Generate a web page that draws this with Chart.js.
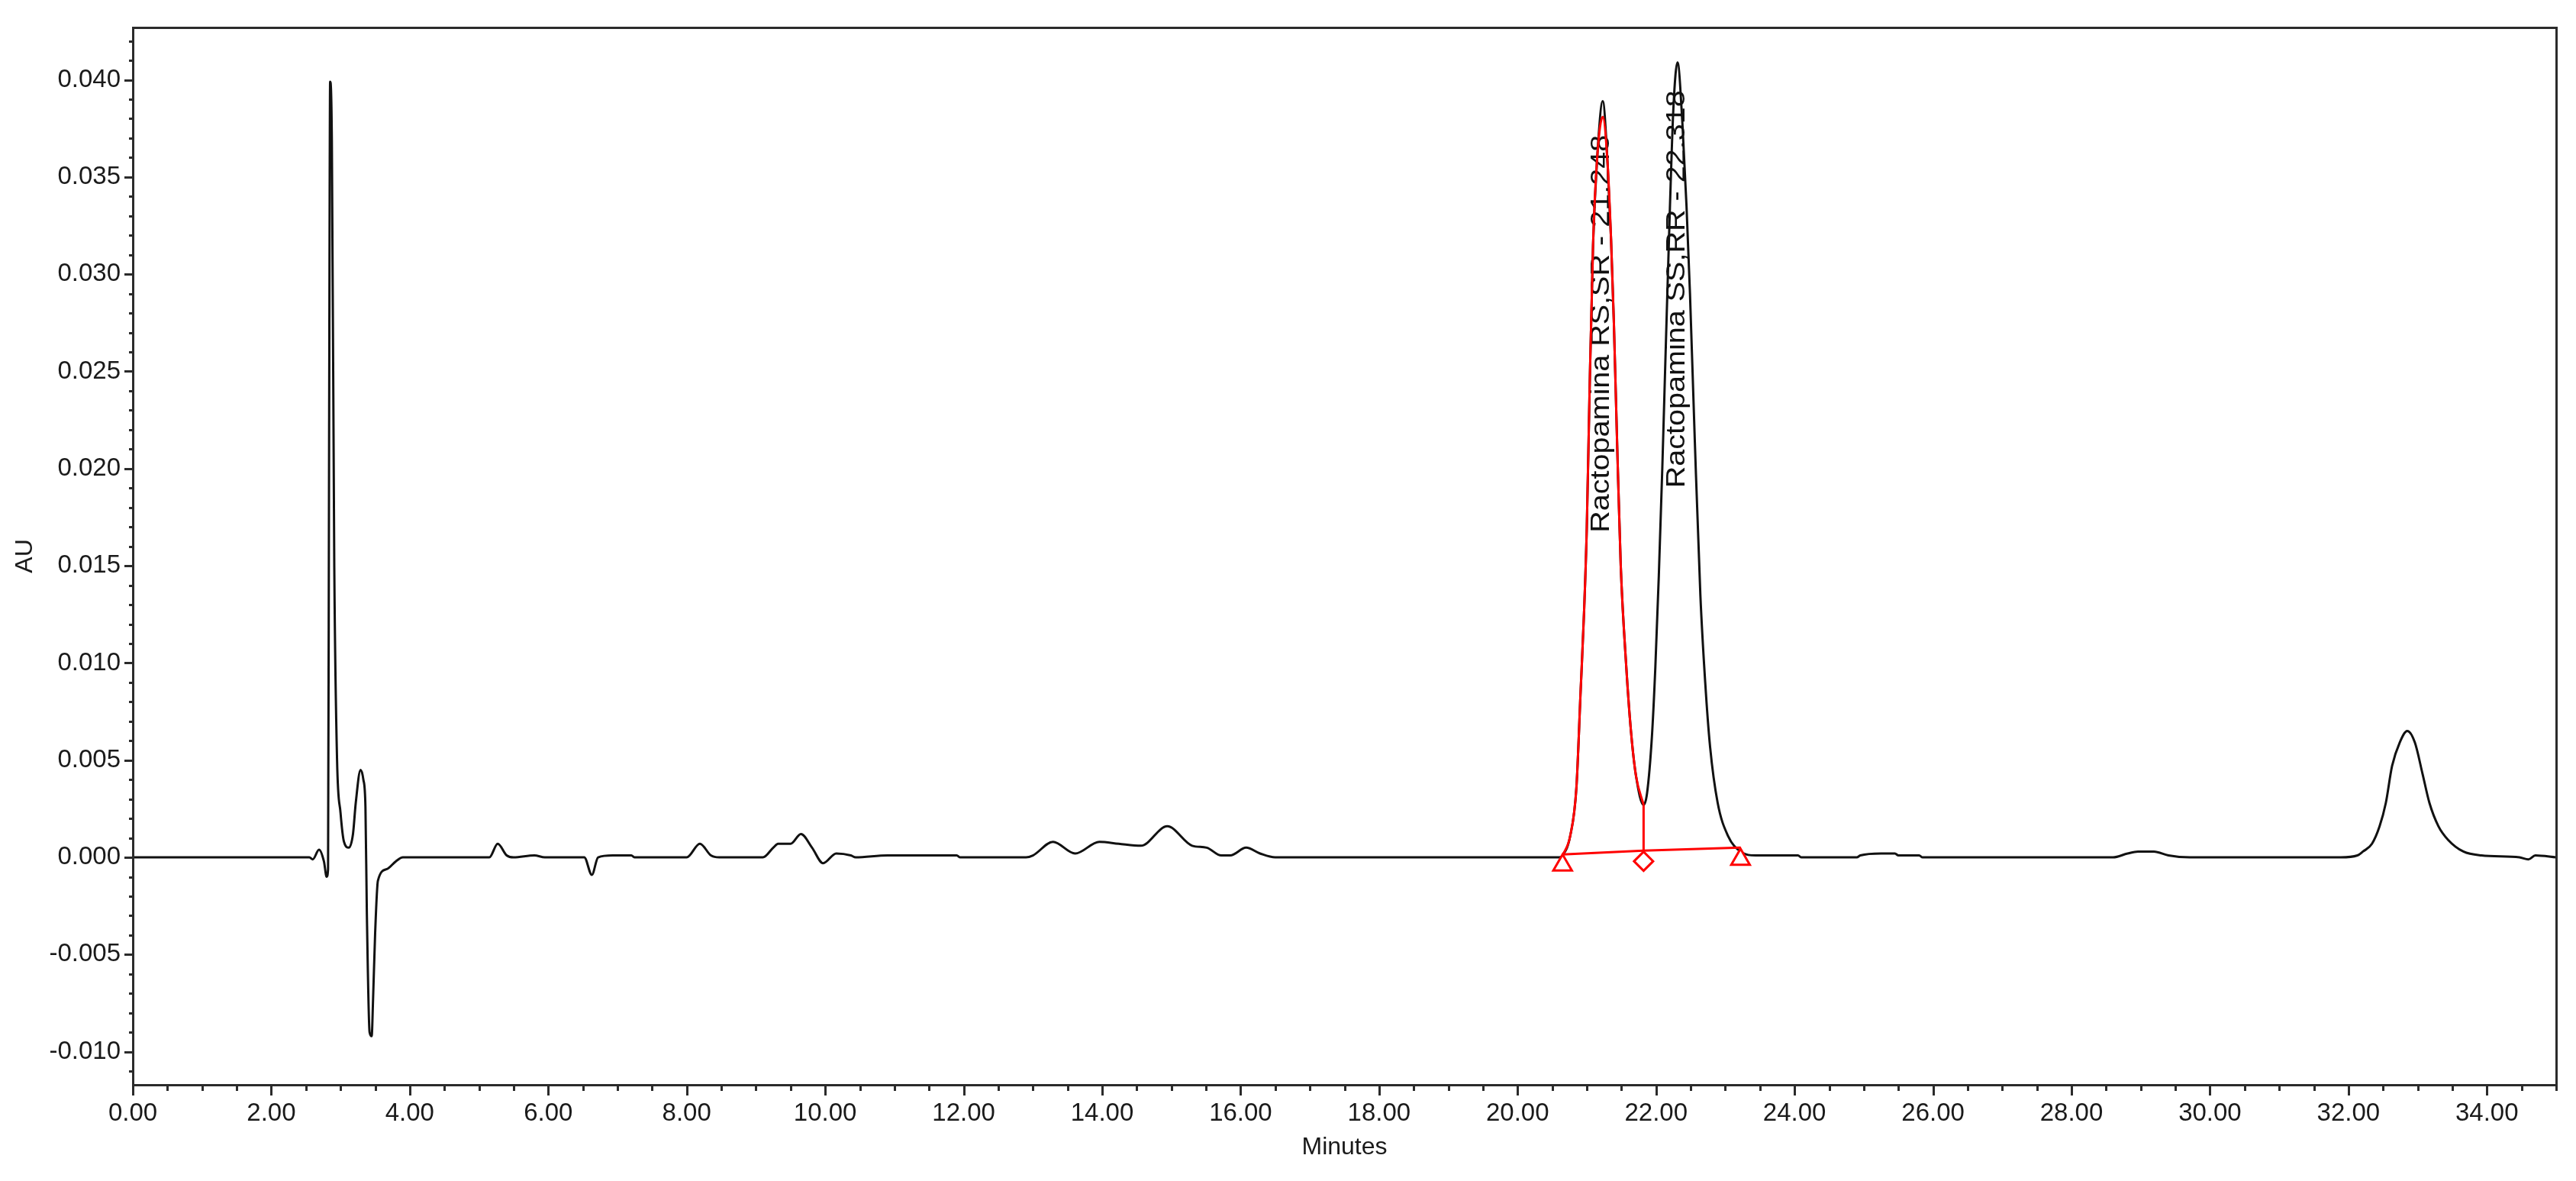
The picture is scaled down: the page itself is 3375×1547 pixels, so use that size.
<!DOCTYPE html>
<html>
<head>
<meta charset="utf-8">
<script src="https://cdn.jsdelivr.net/npm/chart.js@4.4.1/dist/chart.umd.min.js"></script>
<style>
  html, body { margin: 0; padding: 0; background: #fff; }
  canvas { display: block; }
</style>
</head>
<body>
<canvas id="crom" width="3375" height="1547"></canvas>
<script>
/* Cromatograma - ractopamina */
const tempo = [
  0, 2.55, 2.60, 2.69, 2.76, 2.80, 2.82, 2.835, 2.85, 2.875, 2.91, 2.95, 3.00, 3.05, 3.12, 3.18,
  3.22, 3.29, 3.33, 3.36, 3.38, 3.42, 3.45, 3.47, 3.50, 3.54, 3.67, 3.80, 3.90,
  5.15, 5.27, 5.40, 5.50, 5.80, 5.95, 6.52, 6.63, 6.72, 6.93, 7.20, 7.25,
  8.00, 8.19, 8.35, 8.47, 9.10, 9.25, 9.32, 9.50, 9.65, 9.81, 9.97, 10.16, 10.37, 10.44,
  10.90, 11.90, 11.95, 12.90, 13.00, 13.29, 13.61, 13.96, 14.24, 14.56, 14.94, 15.30, 15.51,
  15.72, 15.85, 16.08, 16.28, 16.50, 20.60, 20.65,
  20.76, 20.85, 20.91, 20.96, 21.00, 21.04, 21.09, 21.15, 21.23, 21.30, 21.35, 21.39, 21.44, 21.49,
  21.57, 21.64, 21.71, 21.82,
  21.87, 21.94, 21.99, 22.04, 22.09, 22.14, 22.20, 22.25, 22.31, 22.38, 22.44, 22.49, 22.56, 22.64,
  22.71, 22.78, 22.89, 23.04, 23.22, 23.44, 24.05, 24.10, 24.90, 24.95, 25.25, 25.45, 25.50,
  25.80, 25.85, 28.60, 28.81, 28.96, 29.19, 29.40, 29.71, 31.89, 32.13, 32.21, 32.34, 32.45,
  32.54, 32.63, 32.74, 32.85, 32.96, 33.07, 33.17, 33.30, 33.44, 33.66, 33.92, 34.47, 34.60,
  34.70, 35.00
];
const au = [
  0, 0, -0.0001, 0.0004, -0.0002, -0.0010, -0.0006, 0.0214, 0.0399, 0.0368, 0.0149, 0.0050, 0.0023, 0.0008, 0.0005, 0.0012,
  0.0028, 0.0045, 0.0040, 0.0026, -0.0028, -0.0090, -0.0092, -0.0073, -0.0039, -0.0012, -0.0006, -0.0002, 0,
  0, 0.0007, 0.0001, 0, 0.0001, 0, 0, -0.0009, 0, 0.0001, 0.0001, 0,
  0, 0.0007, 0.0001, 0, 0, 0.0005, 0.0007, 0.0007, 0.0012, 0.0005, -0.0003, 0.0002, 0.0001, 0,
  0.0001, 0.0001, 0, 0, 0.0001, 0.0008, 0.0002, 0.0008, 0.0007, 0.0006, 0.0016, 0.0006, 0.0005,
  0.0001, 0.0001, 0.0005, 0.0002, 0, 0, 0.0001,
  0.0011, 0.0036, 0.0085, 0.0126, 0.0170, 0.0240, 0.0315, 0.0360, 0.0389, 0.0357, 0.0318, 0.0276, 0.0210, 0.0150,
  0.0098, 0.0064, 0.0042, 0.0027,
  0.0033, 0.0062, 0.0098, 0.0145, 0.0200, 0.0262, 0.0334, 0.0385, 0.0409, 0.0378, 0.0335, 0.0290, 0.0214, 0.0135,
  0.0090, 0.0057, 0.0028, 0.0011, 0.0003, 0.0001, 0.0001, 0, 0, 0.0001, 0.0002, 0.0002, 0.0001,
  0.0001, 0, 0, 0.0002, 0.0003, 0.0003, 0.0001, 0, 0, 0.0001, 0.0003, 0.0007, 0.0016,
  0.0028, 0.0047, 0.0059, 0.0065, 0.0059, 0.0043, 0.0028, 0.0016, 0.0009, 0.0003, 0.0001, 0, -0.0001,
  0.0001, 0
];

// pico integrado RS,SR (vermelho)
const picoTempo = [20.65, 20.76, 20.85, 20.91, 20.96, 21.00, 21.04, 21.09, 21.15, 21.23, 21.30, 21.35,
  21.39, 21.44, 21.49, 21.57, 21.64, 21.71, 21.82];
const picoAu = [0.0001, 0.0011, 0.0036, 0.0085, 0.0126, 0.0170, 0.0240, 0.0315, 0.0360, 0.0381, 0.0357,
  0.0318, 0.0276, 0.0210, 0.0150, 0.0098, 0.0064, 0.0042, 0.0027];

const baseTempo = [20.65, 21.82, 23.22];
const baseAu = [0.00015, 0.00035, 0.0005];
const quedaTempo = [21.82, 21.82];
const quedaAu = [0.00035, 0.0027];
const marcaTempo = [20.65, 21.82, 23.22];
const marcaAu = [-0.0004, -0.0002, -0.0001];
const marcaTipo = ['triangle', 'rectRot', 'triangle'];

const picoNomes = ['Ractopamina RS,SR - 21.248', 'Ractopamina SS,RR - 22.318'];
const picoNomeTempo = [21.21, 22.31];
const picoNomeAu = [0.0167, 0.0190];

const xTicks = [0, 2, 4, 6, 8, 10, 12, 14, 16, 18, 20, 22, 24, 26, 28, 30, 32, 34];
const yTicks = [-0.010, -0.005, 0.000, 0.005, 0.010, 0.015, 0.020, 0.025, 0.030, 0.035, 0.040];

const pts = (xs, ys) => xs.map((v, i) => ({ x: v, y: ys[i] }));
const fonte = '"Liberation Sans", Arial, sans-serif';

const nomesPicos = {
  id: 'nomesPicos',
  beforeDatasetsDraw(chart) {
    const { ctx, scales: { x, y } } = chart;
    ctx.save();
    ctx.font = '35px ' + fonte;
    ctx.fillStyle = '#111';
    ctx.textAlign = 'left';
    ctx.textBaseline = 'middle';
    picoNomes.forEach((txt, i) => {
      ctx.save();
      ctx.translate(x.getPixelForValue(picoNomeTempo[i]), y.getPixelForValue(picoNomeAu[i]));
      ctx.rotate(-Math.PI / 2);
      ctx.scale(1.13, 1);
      ctx.fillText(txt, 0, 0);
      ctx.restore();
    });
    ctx.restore();
  }
};

// moldura + marcas maiores/menores dos eixos
const marcasEixo = {
  id: 'marcasEixo',
  afterDraw(chart) {
    const { ctx, chartArea: a, scales: { x, y } } = chart;
    ctx.save();
    ctx.strokeStyle = '#2b2b2b';
    ctx.lineWidth = 3;
    ctx.beginPath();
    for (let i = 0; i <= 70; i++) {
      const px = Math.round(x.getPixelForValue(i * 0.5)) + 0.5;
      const len = i % 4 === 0 ? 14 : 8;
      ctx.moveTo(px, a.bottom);
      ctx.lineTo(px, a.bottom + len);
    }
    for (let i = -11; i <= 42; i++) {
      const py = Math.round(y.getPixelForValue(i / 1000)) + 0.5;
      const len = i % 5 === 0 ? 11 : 5;
      ctx.moveTo(a.left, py);
      ctx.lineTo(a.left - len, py);
    }
    ctx.stroke();
    ctx.strokeRect(Math.round(a.left) + 0.5, Math.round(a.top) + 0.5,
      Math.round(a.right - a.left), Math.round(a.bottom - a.top));
    ctx.restore();
  }
};

Chart.defaults.font.family = fonte;
Chart.defaults.color = '#1a1a1a';

new Chart(document.getElementById('crom'), {
  type: 'line',
  data: {
    datasets: [
      {
        data: pts(marcaTempo, marcaAu),
        showLine: false,
        pointStyle: marcaTipo,
        pointRadius: [14, 12.5, 14],
        borderColor: '#ff0000',
        backgroundColor: '#ffffff',
        pointBorderWidth: 3
      },
      {
        data: pts(quedaTempo, quedaAu),
        borderColor: '#ff0000',
        borderWidth: 3,
        pointRadius: 0
      },
      {
        data: pts(picoTempo, picoAu),
        borderColor: '#ff0000',
        borderWidth: 3,
        pointRadius: 0,
        cubicInterpolationMode: 'monotone'
      },
      {
        data: pts(baseTempo, baseAu),
        borderColor: '#ff0000',
        borderWidth: 3,
        pointRadius: 0
      },
      {
        data: pts(tempo, au),
        borderColor: '#111111',
        borderWidth: 3,
        pointRadius: 0,
        cubicInterpolationMode: 'monotone'
      }
    ]
  },
  options: {
    responsive: false,
    animation: false,
    layout: { padding: { top: 29, right: 26, left: 0, bottom: 0 } },
    plugins: { legend: { display: false }, tooltip: { enabled: false } },
    scales: {
      x: {
        type: 'linear',
        min: 0,
        max: 35,
        afterFit(s) { s.height = 126; },
        afterBuildTicks(s) { s.ticks = xTicks.map(v => ({ value: v })); },
        grid: { display: false, drawTicks: false },
        border: { display: false },
        ticks: {
          autoSkip: false,
          maxRotation: 0,
          padding: 18,
          font: { size: 33 },
          callback: v => Number(v).toFixed(2)
        },
        title: { display: true, text: 'Minutes', font: { size: 32 }, padding: { bottom: 25 } }
      },
      y: {
        type: 'linear',
        min: -0.0117,
        max: 0.0427,
        afterFit(s) { s.width = 174; },
        afterBuildTicks(s) { s.ticks = yTicks.map(v => ({ value: v })); },
        grid: { display: false, drawTicks: false },
        border: { display: false },
        ticks: {
          autoSkip: false,
          padding: 16,
          font: { size: 33 },
          callback: v => Number(v).toFixed(3)
        },
        title: { display: true, text: 'AU', font: { size: 32 }, padding: { top: 14 } }
      }
    }
  },
  plugins: [nomesPicos, marcasEixo]
});
</script>
</body>
</html>
